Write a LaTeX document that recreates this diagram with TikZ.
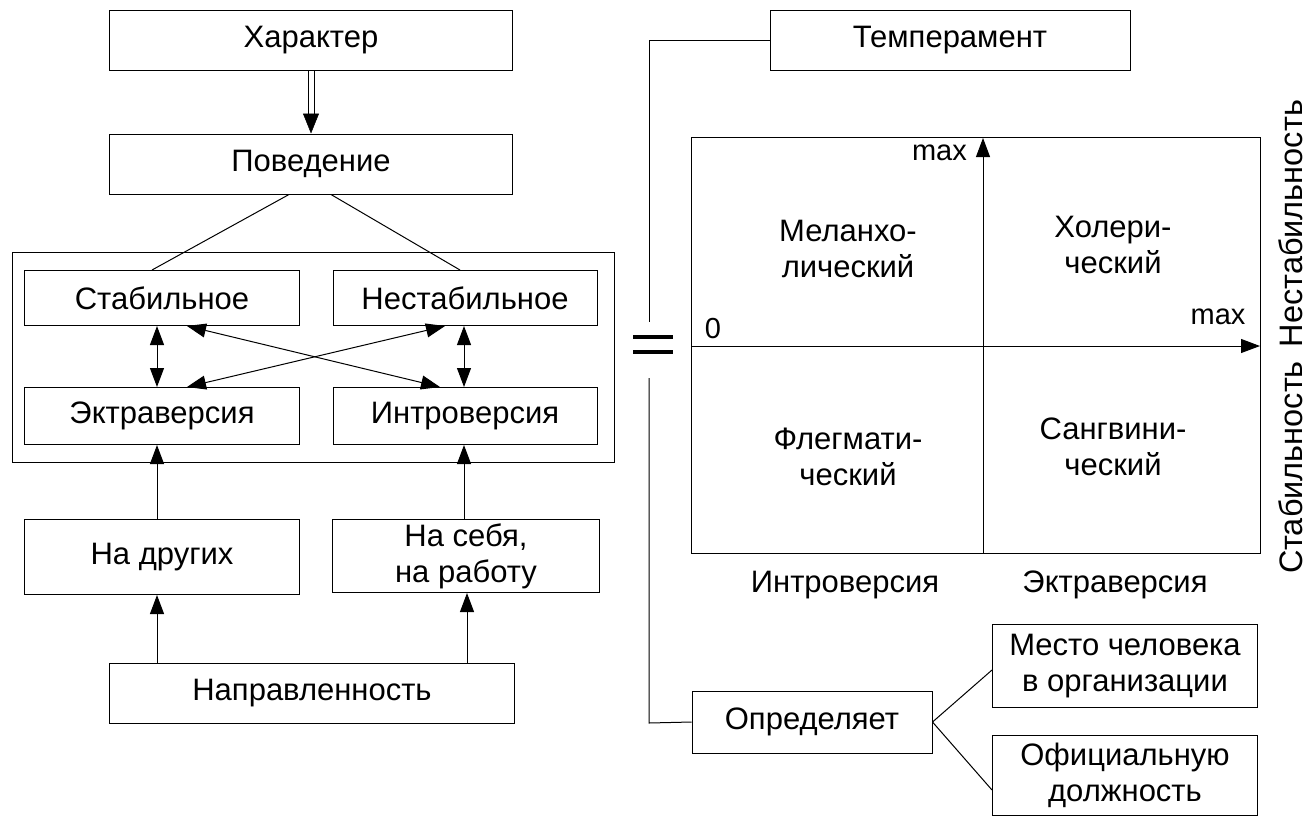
\documentclass[tikz,border=0pt]{standalone}
\usepackage{fontspec}
\setmainfont{Liberation Sans}
\usetikzlibrary{arrows.meta,calc}
\begin{document}
\begin{tikzpicture}[x=1pt,y=-1pt,
  bx/.style={draw, line width=1pt, align=center, inner sep=0pt, font=\fontsize{31}{36}\selectfont},
  lbl/.style={inner sep=0pt, align=center, font=\fontsize{31}{36}\selectfont},
  sml/.style={inner sep=0pt, font=\fontsize{29}{34}\selectfont},
  conn/.style={line width=1pt},
  tip/.style={-{Triangle[length=19pt,width=14pt]}},
  dtip/.style={{Triangle[length=19pt,width=14pt]}-{Triangle[length=19pt,width=14pt]}}
]
\useasboundingbox (0,0) rectangle (1316,830);
% left column
\node[bx, minimum width=403pt, minimum height=60pt] (char) at (311,40) {Характер};
\node[bx, minimum width=403pt, minimum height=60pt] (beh) at (311,164) {Поведение};
\node[draw, line width=1pt, minimum width=602pt, minimum height=210pt, inner sep=0pt] (outer) at (313,357) {};
\node[bx, minimum width=275pt, minimum height=55pt] (stab) at (162,298) {Стабильное};
\node[bx, minimum width=264pt, minimum height=55pt] (nstab) at (465,298) {Нестабильное};
\node[bx, minimum width=275pt, minimum height=57pt] (extra) at (162,416) {Эктраверсия};
\node[bx, minimum width=264pt, minimum height=57pt] (intro) at (465,416) {Интроверсия};
\node[bx, minimum width=275pt, minimum height=75pt] (others) at (162,557) {На других};
\node[bx, minimum width=267pt, minimum height=73pt] (self) at (466,556) {На себя,\\на работу};
\node[bx, minimum width=405pt, minimum height=60pt] (dir) at (312,693) {Направленность};

% double arrow
\draw[conn] (char.south -| 308,0) -- ($(beh.north -| 308,0)+(0,-18)$);
\draw[conn] (char.south -| 314,0) -- ($(beh.north -| 314,0)+(0,-18)$);
\draw[-{Triangle[length=20pt,width=16pt]}, line width=0.5pt] ($(beh.north -| 311,0)+(0,-20)$) -- (beh.north -| 311,0);
% lines from behaviour
\draw[conn] ($(beh.south)+(-22,0)$) -- ($(stab.north)+(-10,0)$);
\draw[conn] ($(beh.south)+(20,0)$) -- ($(nstab.north)+(-5,0)$);
% vertical double arrows
\draw[conn, dtip] (stab.south -| 157,0) -- (extra.north -| 157,0);
\draw[conn, dtip] (nstab.south -| 464,0) -- (intro.north -| 464,0);
% cross arrows
\draw[conn, dtip] ($(stab.south)+(25,0)$) -- ($(intro.north)+(-25,0)$);
\draw[conn, dtip] ($(nstab.south)+(-20,0)$) -- ($(extra.north)+(25,0)$);
% up arrows
\draw[conn, tip] (others.north -| 157,0) -- (extra.south -| 157,0);
\draw[conn, tip] (self.north -| 464,0) -- (intro.south -| 464,0);
\draw[conn, tip] (dir.north -| 157,0) -- (others.south -| 157,0);
\draw[conn, tip] (dir.north -| 467,0) -- (self.south -| 467,0);

% right side
\node[bx, minimum width=360pt, minimum height=60pt] (temp) at (950,40) {Темперамент};
\node[draw, line width=1pt, minimum width=569pt, minimum height=416pt, inner sep=0pt] (quad) at (975.5,345) {};
\coordinate (vtop) at (983,138);
\coordinate (vbot) at (983,553);
\coordinate (hl) at (691,346);
\coordinate (hr) at (1260,346);
\draw[conn, tip] (vbot) -- (vtop);
\draw[conn, tip] (hl) -- (hr);
\node[sml, anchor=east] (vmax) at (967,153) {max};
\node[sml] (zero) at (713,329) {0};
\node[sml] (hmax) at (1218,317) {max};
\node[lbl] (mel) at (848,249) {Меланхо-\\лический};
\node[lbl] (chol) at (1113,245) {Холери-\\ческий};
\node[lbl] (phl) at (848,457) {Флегмати-\\ческий};
\node[lbl] (sang) at (1113,447) {Сангвини-\\ческий};
\node[lbl] (lintro) at (845,585) {Интроверсия};
\node[lbl] (lextra) at (1115,585) {Эктраверсия};
\node[lbl, rotate=90, font=\fontsize{32.5}{36}\selectfont] (stabnst) at (1291,337) {Стабильность\hspace{14pt}Нестабильность};

\node[bx, minimum width=240pt, minimum height=62pt] (det) at (812,722) {Определяет};
\node[bx, minimum width=265pt, minimum height=83pt] (place) at (1125,666) {Место человека\\в организации};
\node[bx, minimum width=265pt, minimum height=80pt] (post) at (1125,775) {Официальную\\должность};
\draw[conn] (det.east) -- ($(place.west)+(0,4)$);
\draw[conn] (det.east) -- ($(post.west)+(0,15)$);

% bracket and equals sign
\coordinate (brtop) at (649,40);
\coordinate (eqtop) at (649,322);
\coordinate (eqbot) at (649,378);
\coordinate (brbot) at (649,723);
\draw[conn] (temp.west) -- (brtop) -- (eqtop);
\draw[conn] (eqbot) -- (brbot) -- (det.west);
\draw[line width=3.5pt] (633,337) -- (673,337);
\draw[line width=3.5pt] (633,352) -- (673,352);
\end{tikzpicture}
\end{document}
